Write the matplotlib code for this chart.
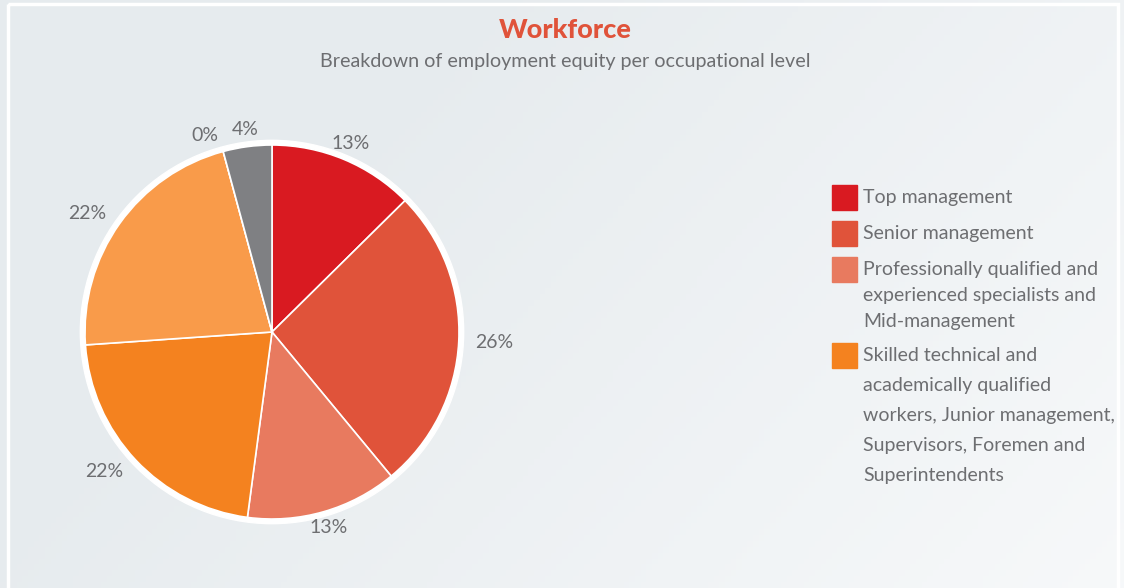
import matplotlib.pyplot as plt
from matplotlib.patches import Rectangle, Circle
import numpy as np

plt.rcParams['font.family'] = ['Lato', 'DejaVu Sans']

# data
slice_values = [12.6, 26.4, 13.1, 21.8, 21.9, 0.0, 4.2]
slice_labels = ['13%', '26%', '13%', '22%', '22%', '0%', '4%']
slice_colors = ['#d91a21', '#e0533a', '#e87a5f', '#f4821f', '#f99b4a', '#f99b4a', '#7f8083']
legend_labels = ['Top management',
                 'Senior management',
                 'Professionally qualified and\nexperienced specialists and\nMid-management',
                 'Skilled technical and\nacademically qualified\nworkers, Junior management,\nSupervisors, Foremen and\nSuperintendents']

W, H = 1124, 588
grey_txt = '#6d6e71'

fig = plt.figure(figsize=(W / 100, H / 100), dpi=100)

# background, pixel coords
bg = fig.add_axes([0, 0, 1, 1])
bg.set_xlim(0, W)
bg.set_ylim(H, 0)
bg.axis('off')
gx, gy = np.meshgrid(np.linspace(0, 1, 200), np.linspace(0, 1, 100))
grad = np.clip(0.75 * gx + 0.35 * gy - 0.3, 0, 1)
c0 = np.array([230, 235, 238]) / 255
c1 = np.array([251, 252, 253]) / 255
img = c0 + (c1 - c0) * grad[..., None]
bg.imshow(img, extent=[0, W, H, 0], aspect='auto', zorder=0)
bg.add_patch(Rectangle((8, 4), 1110, 590, fill=False, edgecolor='white', lw=2.5, zorder=1))

# title
bg.text(565, 30, 'Workforce', color='#e0533a', fontsize=19.5, fontweight='black',
        ha='center', va='center')
bg.text(565, 61, 'Breakdown of employment equity per occupational level', color=grey_txt,
        fontsize=14.2, ha='center', va='center')

# legend drawn by hand
sq = 25
y = 185
for lab, col in zip(legend_labels, slice_colors):
    nlines = lab.count('\n') + 1
    bg.add_patch(Rectangle((832, y), sq, sq, color=col, zorder=2))
    if nlines == 1:
        bg.text(863, y + 13, lab, color=grey_txt, fontsize=14, ha='left',
                va='center')
        y += 36
    else:
        ls = 1.93 if nlines > 3 else 1.66
        bg.text(863, y + 4, lab, color=grey_txt, fontsize=14, ha='left',
                va='top', linespacing=ls)
        y += 86

# pie
cx, cy, R = 272, 332, 187
half = 250
ax = fig.add_axes([(cx - half) / W, (H - cy - half) / H, 2 * half / W, 2 * half / H])
ax.add_patch(Circle((0, 0), 1.025, color='white', zorder=0))
wedges, texts = ax.pie(slice_values, labels=slice_labels, colors=slice_colors,
                       startangle=90, counterclock=False, radius=1,
                       labeldistance=1.09,
                       wedgeprops=dict(edgecolor='white', linewidth=1.2),
                       textprops=dict(color=grey_txt, fontsize=14))
ax.set_xlim(-half / R, half / R)
ax.set_ylim(-half / R, half / R)
ax.axis('off')
for t, v in zip(texts, slice_values):
    x, _ = t.get_position()
    if abs(x) < 0.45 and v > 0:
        t.set_ha('center')

fig.savefig('out.png', dpi=100)
